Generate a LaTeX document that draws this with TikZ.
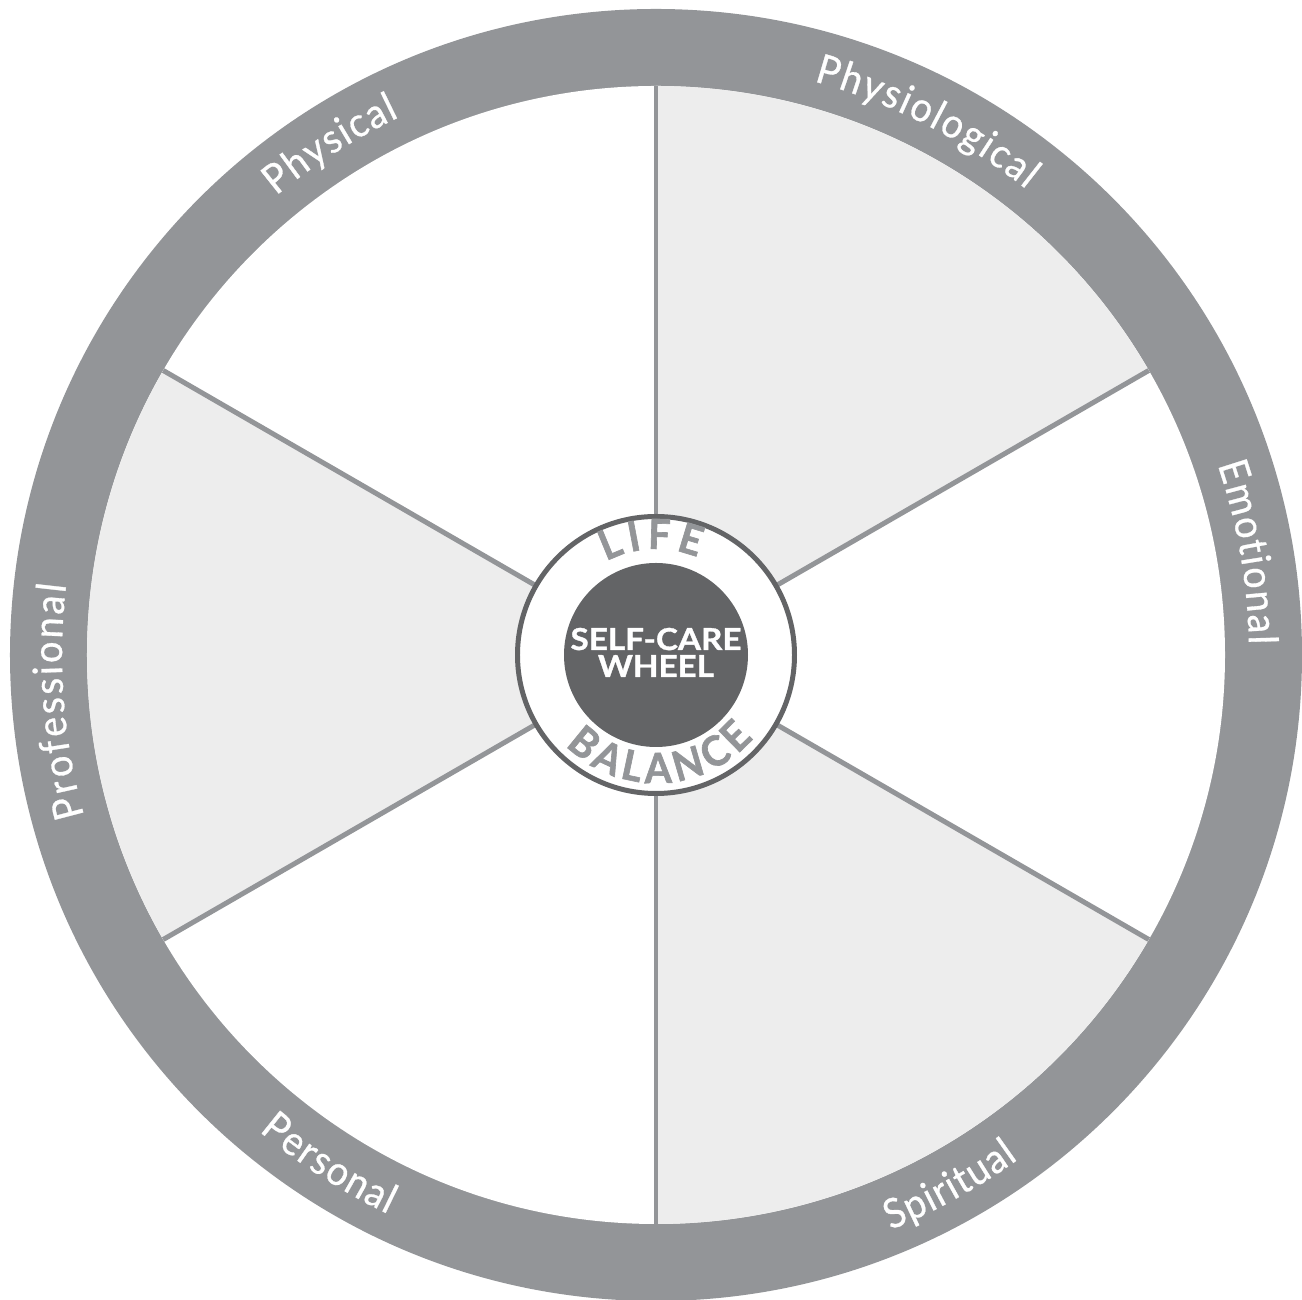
\documentclass[tikz,border=0pt]{standalone}
\usepackage{fontspec}
\setmainfont{Lato}
\newfontfamily\lblfont[FakeBold=0.7,FakeStretch=0.93]{Lato}
\newfontfamily\ringfont[FakeBold=1.5,FakeStretch=0.95]{Lato}
\newfontfamily\hubfont[FakeStretch=1.1,FakeBold=1.1]{Lato}
\usetikzlibrary{decorations.text}
\definecolor{band}{RGB}{147,149,152}
\definecolor{secfill}{RGB}{237,237,237}
\definecolor{hub}{RGB}{99,100,102}
\begin{document}
\begin{tikzpicture}[
  spoke/.style={draw=band, line width=1.42pt},
  lbl/.style={decorate, decoration={text along path, text color=white,
      text align=fit to path, text={|\lblfont\fontsize{11.6}{12}\selectfont|#1}}},
  ringlbl/.style={decorate, decoration={text along path, text color=band,
      text align=fit to path, text={|\ringfont\bfseries\fontsize{11.8}{12}\selectfont|#1}}},
  hubtext/.style={anchor=base, text=white, font=\hubfont\bfseries\fontsize{8.6}{10}\selectfont}
]
\useasboundingbox (-6.56,6.55) rectangle (6.46,-6.45);
\coordinate (O) at (0,0);
% outer band
\fill[band] (O) circle[radius=6.46];
\fill[white] (O) circle[radius=5.69];
% shaded sectors
\foreach \a in {30,150,270}{
  \fill[secfill] (O) -- (\a:5.69) arc[start angle=\a, end angle=\a+60, radius=5.69] -- cycle;
}
% spokes
\coordinate (s1) at (90:5.69);
\coordinate (s2) at (30:5.69);
\coordinate (s3) at (-30:5.69);
\coordinate (s4) at (-90:5.69);
\coordinate (s5) at (-150:5.69);
\coordinate (s6) at (150:5.69);
\foreach \s in {s1,s2,s3,s4,s5,s6}{ \draw[spoke] (O) -- (\s); }
% hub
\node[circle, draw=hub, line width=1.42pt, fill=white, minimum size=2.77cm, inner sep=0pt] (ring) at (O) {};
\node[circle, fill=hub, minimum size=1.84cm, inner sep=0pt] (hubdisc) at (O) {};
\node[hubtext] (t1) at (0,0.05) {SELF-CARE};
\node[hubtext] (t2) at (0,-0.22) {WHEEL};
% ring texts
\path[ringlbl=LIFE] (118:1.06) arc[start angle=118, end angle=67, radius=1.06];
\path[ringlbl=BALANCE] (-135:1.28) arc[start angle=-135, end angle=-40.5, radius=1.28];
% band labels
\path[lbl=Physical] (129.6:5.96) arc[start angle=129.6, end angle=115.5, radius=5.96];
\path[lbl=Physiological] (74.6:5.95) arc[start angle=74.6, end angle=51.5, radius=5.95];
\path[lbl=Emotional] (18.7:5.93) arc[start angle=18.7, end angle=1.0, radius=5.93];
\path[lbl=Professional] (195.7:5.94) arc[start angle=195.7, end angle=173.2, radius=5.94];
\path[lbl=Spiritual] (-67.8:6.21) arc[start angle=-67.8, end angle=-54.3, radius=6.21];
\path[lbl=Personal] (-129.8:6.2) arc[start angle=-129.8, end angle=-115.6, radius=6.2];
\end{tikzpicture}
\end{document}
